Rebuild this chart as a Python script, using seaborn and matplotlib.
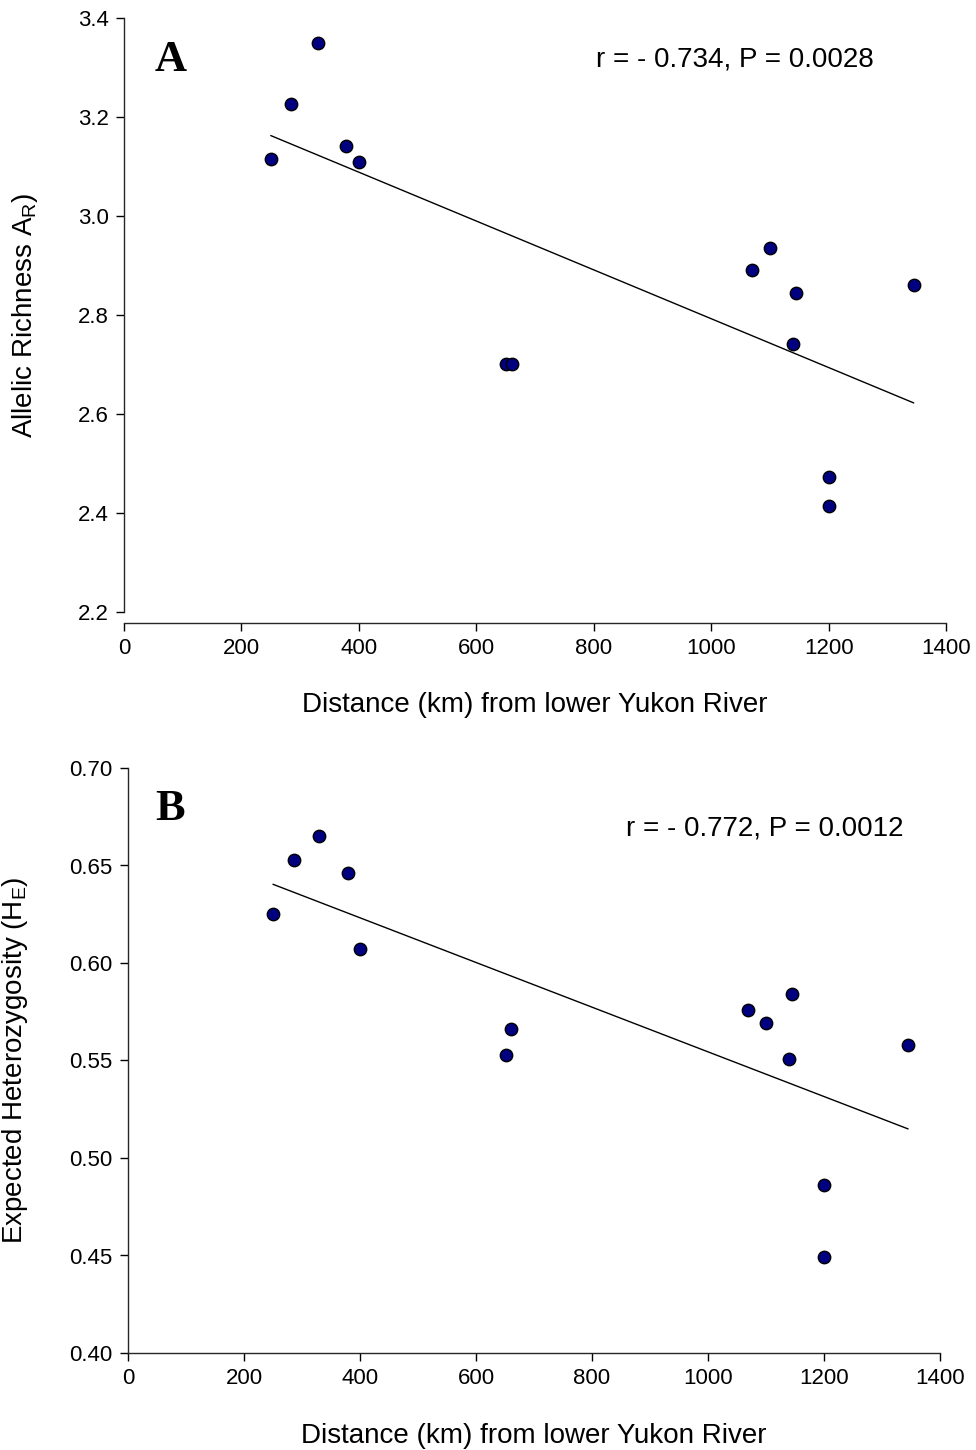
import numpy as np
import pandas as pd
import matplotlib
matplotlib.use("Agg")
import matplotlib.pyplot as plt
import seaborn as sns

# ---- data ----
dist_a = [250, 285, 330, 378, 400, 650, 660, 1070, 1100, 1145, 1140, 1345, 1200, 1200]
rich_a = [3.115, 3.226, 3.349, 3.141, 3.109, 2.700, 2.701, 2.891, 2.936, 2.844, 2.741, 2.861, 2.472, 2.414]

dist_b = [250, 286, 329, 380, 400, 651, 661, 1069, 1100, 1145, 1140, 1345, 1200, 1200]
het_b = [0.625, 0.653, 0.665, 0.646, 0.607, 0.553, 0.566, 0.576, 0.569, 0.584, 0.551, 0.558, 0.486, 0.449]

x_ticks = [0, 200, 400, 600, 800, 1000, 1200, 1400]
y_ticks_a = [2.2, 2.4, 2.6, 2.8, 3.0, 3.2, 3.4]
y_ticks_b = [0.40, 0.45, 0.50, 0.55, 0.60, 0.65, 0.70]

df_a = pd.DataFrame({"dist": dist_a, "val": rich_a})
df_b = pd.DataFrame({"dist": dist_b, "val": het_b})

sns.set_theme(style="ticks")
plt.rcParams["font.family"] = ["Liberation Sans", "DejaVu Sans"]
plt.rcParams["axes.linewidth"] = 1.0
plt.rcParams["text.color"] = "black"
plt.rcParams["axes.labelcolor"] = "black"

fig = plt.figure(figsize=(9.76, 14.5), dpi=100)
ax_a = fig.add_axes([124/976, 1 - 612/1450, 822/976, 594/1450])
ax_b = fig.add_axes([128/976, 1 - 1353/1450, 812/976, 585/1450])

TICK_FS = 16
LABEL_FS = 20
ANN_FS = 20

def draw(ax, df, yticks, ylim, ylabel, yfmt, letter, letter_x, ann, ann_xy,
         offset_bottom, ylab_x, xlab_pad):
    sns.regplot(data=df, x="dist", y="val", ax=ax, scatter=False, ci=None,
                truncate=True, line_kws={"color": "black", "linewidth": 1.0})
    sns.scatterplot(data=df, x="dist", y="val", ax=ax, s=80, color="#000080",
                    edgecolor="black", linewidth=1.0, zorder=3)
    ax.set_xlim(0, 1400)
    ax.set_ylim(*ylim)
    ax.set_xticks(x_ticks)
    ax.set_yticks(yticks)
    ax.set_yticklabels([yfmt.format(v) for v in yticks])
    for s in ["top", "right"]:
        ax.spines[s].set_visible(False)
    if offset_bottom:
        ax.spines["bottom"].set_position(("outward", 8))
    ax.tick_params(axis="both", direction="out", length=6, width=1.0,
                   labelsize=TICK_FS, colors="black", pad=5)
    ax.set_xlabel("Distance (km) from lower Yukon River", fontsize=LABEL_FS,
                  labelpad=xlab_pad)
    ax.set_ylabel(ylabel, fontsize=LABEL_FS)
    ax.yaxis.set_label_coords(ylab_x, 0.5)
    ax.text(letter_x, 0.93, letter, transform=ax.transAxes, fontsize=32,
            fontweight="bold", family=["Liberation Serif", "DejaVu Serif"],
            ha="left", va="center")
    ax.text(ann_xy[0], ann_xy[1], ann, transform=ax.transAxes,
            fontsize=ANN_FS, ha="center", va="center")

draw(ax_a, df_a, y_ticks_a, (2.2, 3.4), r"Allelic Richness A$\mathregular{_R}$)", "{:.1f}",
     "A", 0.037, "r = - 0.734, P = 0.0028", (0.743, 0.930), True, -0.102, 23.5)
draw(ax_b, df_b, y_ticks_b, (0.40, 0.70), r"Expected Heterozygosity (H$\mathregular{_E}$)", "{:.2f}",
     "B", 0.033, "r = - 0.772, P = 0.0012", (0.7845, 0.896), False, -0.121, 24.5)

fig.savefig("out.png", dpi=100, facecolor="white")
